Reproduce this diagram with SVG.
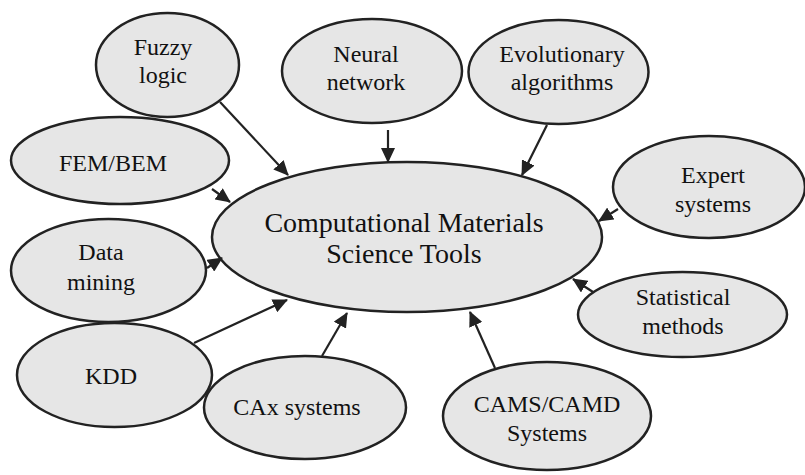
<svg xmlns="http://www.w3.org/2000/svg" width="805" height="475" viewBox="0 0 805 475">
<defs>
<marker id="ah" markerUnits="userSpaceOnUse" markerWidth="15" markerHeight="14" refX="14" refY="7" orient="auto">
<path d="M0,0 L15,7 L0,14 z" fill="#222"/>
</marker>
</defs>
<rect width="805" height="475" fill="#fff"/>
<g fill="#e6e6e6" stroke="#222" stroke-width="2.5">
<g id="fuzzy"><ellipse cx="167.5" cy="65" rx="71.5" ry="52"/><text x="163" y="55" font-family="Liberation Serif, serif" font-size="24" fill="#111" stroke="none" text-anchor="middle">Fuzzy</text><text x="163" y="83" font-family="Liberation Serif, serif" font-size="24" fill="#111" stroke="none" text-anchor="middle">logic</text></g>
<g id="neural"><ellipse cx="372" cy="71" rx="90" ry="52"/><text x="366" y="62" font-family="Liberation Serif, serif" font-size="24" fill="#111" stroke="none" text-anchor="middle">Neural</text><text x="366" y="90" font-family="Liberation Serif, serif" font-size="24" fill="#111" stroke="none" text-anchor="middle">network</text></g>
<g id="evolutionary"><ellipse cx="558.5" cy="72" rx="90" ry="52"/><text x="562" y="62" font-family="Liberation Serif, serif" font-size="24" fill="#111" stroke="none" text-anchor="middle">Evolutionary</text><text x="562" y="90" font-family="Liberation Serif, serif" font-size="24" fill="#111" stroke="none" text-anchor="middle">algorithms</text></g>
<g id="fem"><ellipse cx="120" cy="160.5" rx="109" ry="43.5"/><text x="113" y="171" font-family="Liberation Serif, serif" font-size="24" fill="#111" stroke="none" text-anchor="middle">FEM/BEM</text></g>
<g id="expert"><ellipse cx="709" cy="187" rx="96" ry="51"/><text x="713" y="183" font-family="Liberation Serif, serif" font-size="24" fill="#111" stroke="none" text-anchor="middle">Expert</text><text x="713" y="212" font-family="Liberation Serif, serif" font-size="24" fill="#111" stroke="none" text-anchor="middle">systems</text></g>
<g id="center"><ellipse cx="407" cy="237" rx="195" ry="75"/><text x="404" y="232" font-family="Liberation Serif, serif" font-size="28" fill="#111" stroke="none" text-anchor="middle">Computational Materials</text><text x="404" y="263" font-family="Liberation Serif, serif" font-size="28" fill="#111" stroke="none" text-anchor="middle">Science Tools</text></g>
<g id="datamining"><ellipse cx="108.5" cy="270.5" rx="97.5" ry="51.5"/><text x="101" y="260" font-family="Liberation Serif, serif" font-size="24" fill="#111" stroke="none" text-anchor="middle">Data</text><text x="101" y="290" font-family="Liberation Serif, serif" font-size="24" fill="#111" stroke="none" text-anchor="middle">mining</text></g>
<g id="statistical"><ellipse cx="682.5" cy="314.5" rx="104.5" ry="42.5"/><text x="683" y="305" font-family="Liberation Serif, serif" font-size="24" fill="#111" stroke="none" text-anchor="middle">Statistical</text><text x="683" y="334" font-family="Liberation Serif, serif" font-size="24" fill="#111" stroke="none" text-anchor="middle">methods</text></g>
<g id="kdd"><ellipse cx="114.5" cy="375" rx="97.5" ry="52"/><text x="111" y="384" font-family="Liberation Serif, serif" font-size="24" fill="#111" stroke="none" text-anchor="middle">KDD</text></g>
<g id="cax"><ellipse cx="305" cy="407.5" rx="101" ry="51.5"/><text x="297" y="415" font-family="Liberation Serif, serif" font-size="24" fill="#111" stroke="none" text-anchor="middle">CAx systems</text></g>
<g id="cams"><ellipse cx="547" cy="416" rx="104" ry="54"/><text x="547" y="412" font-family="Liberation Serif, serif" font-size="24" fill="#111" stroke="none" text-anchor="middle">CAMS/CAMD</text><text x="547" y="441" font-family="Liberation Serif, serif" font-size="24" fill="#111" stroke="none" text-anchor="middle">Systems</text></g>
</g>
<g id="connectors" stroke="#222" stroke-width="2.2" marker-end="url(#ah)">
<line x1="220" y1="102" x2="288" y2="175"/>
<line x1="388" y1="130" x2="388" y2="162"/>
<line x1="547" y1="125" x2="522" y2="175"/>
<line x1="618" y1="209" x2="599" y2="221"/>
<line x1="212" y1="189" x2="230" y2="202"/>
<line x1="207" y1="268" x2="222" y2="258"/>
<line x1="194" y1="343" x2="287" y2="300"/>
<line x1="322" y1="356" x2="347" y2="313"/>
<line x1="495" y1="368" x2="470" y2="312"/>
<line x1="593" y1="292" x2="573" y2="279"/>
</g>
</svg>
